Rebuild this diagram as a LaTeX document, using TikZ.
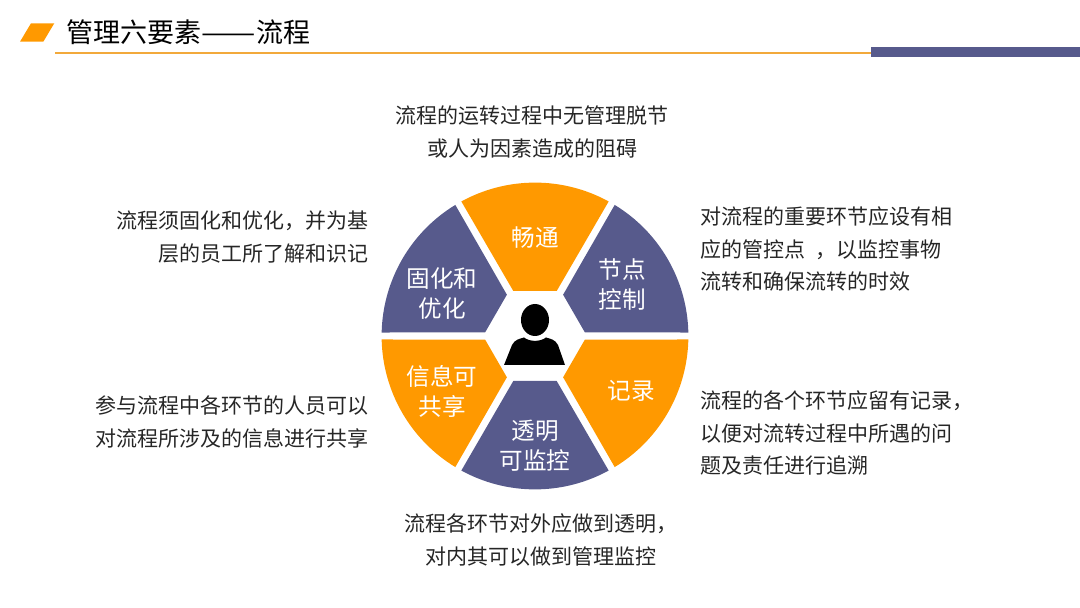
\documentclass[tikz,border=0pt]{standalone}
\usepackage{fontspec}
\setmainfont{Noto Sans CJK SC}
\definecolor{wedgeorange}{HTML}{FF9900}
\definecolor{wedgeblue}{HTML}{575A8C}
\definecolor{ruleorange}{HTML}{F2A93B}
\definecolor{bodyink}{HTML}{262626}
\tikzset{
  sector/.style={draw=none,fill=#1},
  bodytext/.style={inner sep=0pt,text=bodyink,font=\fontsize{21}{32.5}\selectfont},
  wedgetext/.style={inner sep=0pt,align=center,text=white,font=\fontsize{23.6}{30}\selectfont},
}
\begin{document}
\begin{tikzpicture}[x=1pt,y=1pt]
\useasboundingbox (0,0) rectangle (1080,608);
% title bar
\fill[wedgeorange] (20,566.3) -- (43.3,566.3) -- (54.3,584.7) -- (31,584.7) -- cycle;
\node[inner sep=0pt,anchor=west,text=black,font=\fontsize{27}{27}\selectfont] (title) at (66.5,576) {管理六要素\scalebox{1.2}[1]{——}流程};
\fill[ruleorange] (55,554.4) rectangle (872,556.4);
\fill[wedgeblue] (871,551.3) rectangle (1080,560.7);
% wheel
\begin{scope}[shift={(535,272)}]
\foreach \ang/\col in {0/wedgeorange,60/wedgeblue,120/wedgeorange,180/wedgeblue,240/wedgeorange,300/wedgeblue}{
  \fill[sector=\col,rotate=\ang] (-21.7,45) -- (21.7,45) -- (61.3:153.4) arc (61.3:118.7:153.4) -- cycle;
}
% person
\fill[black] (0,16) ellipse (14 and 16);
\fill[black] (-31,-29) -- (-23,-9) .. controls (-20,-3.5) and (-16,-3) .. (-11,-1.5)
  .. controls (-5,-6) and (5,-6) .. (11,-1.5)
  .. controls (16,-3) and (20,-3.5) .. (23,-9) -- (30,-29) -- cycle;
\node[wedgetext] (changtong) at (0,98) {畅通};
\node[wedgetext] (jiedian) at (87,51) {节点\\控制};
\node[wedgetext] (jilu) at (96,-55) {记录};
\node[wedgetext] (toumin) at (0,-109.5) {透明\\可监控};
\node[wedgetext] (xinxi) at (-93,-55) {信息可\\共享};
\node[wedgetext] (guhua) at (-93,42) {固化和\\优化};
\end{scope}
% notes
\node[bodytext,align=center] (topnote) at (532,476) {流程的运转过程中无管理脱节\\或人为因素造成的阻碍};
\node[bodytext,align=right,anchor=east] (leftnote) at (369,371) {流程须固化和优化，并为基\\层的员工所了解和识记};
\node[bodytext,align=right,anchor=east] (leftnoteb) at (369,186) {参与流程中各环节的人员可以\\对流程所涉及的信息进行共享};
\node[bodytext,align=left,anchor=west] (rightnote) at (700,359) {对流程的重要环节应设有相\\应的管控点\hspace{6pt} ，以监控事物\\流转和确保流转的时效};
\node[bodytext,align=left,anchor=west] (rightnoteb) at (700,175) {流程的各个环节应留有记录，\\以便对流转过程中所遇的问\\题及责任进行追溯};
\node[bodytext,align=center] (bottomnote) at (540.5,68) {流程各环节对外应做到透明，\\对内其可以做到管理监控};
\end{tikzpicture}
\end{document}
